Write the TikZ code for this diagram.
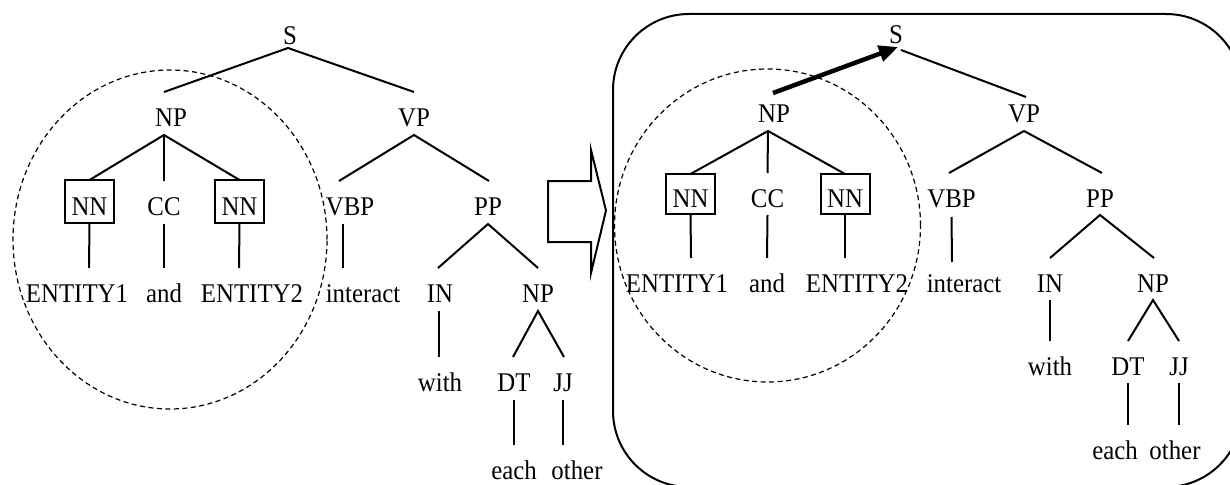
\documentclass[tikz,border=0pt]{standalone}
\usepackage{fontspec}
\setmainfont{Liberation Serif}[FakeStretch=0.92]
\usetikzlibrary{arrows.meta}
\begin{document}
\begin{tikzpicture}[x=1pt,y=-1pt,
  lbl/.style={inner sep=0pt, outer sep=0pt, anchor=base, text height=34pt, text depth=9pt,
              font=\fontsize{27}{30}\selectfont},
  lblR/.style={lbl, text depth=8pt},
  nnbox/.style={lbl, draw, line width=2pt, minimum width=49pt, inner xsep=0pt,
                text height=27pt, text depth=0pt, inner ysep=8pt},
  nnboxR/.style={nnbox, text height=26pt, inner ysep=7pt},
  edge/.style={line width=2pt},
  circ/.style={line width=1.2pt, dash pattern=on 5pt off 3.5pt},
  frame/.style={line width=2pt},
  bigarrow/.style={line width=2pt, line join=miter},
  headarrow/.style={line width=4.5pt, -{Triangle[length=19pt,width=16pt]}}
]
\useasboundingbox (0,0) rectangle (1230,484);
\clip (0,0) rectangle (1230,484);

% ---------------- left tree ----------------
\draw[circ] (170,239.5) ellipse [x radius=157pt, y radius=169.5pt];

\node[lbl, text depth=3pt] (S1) at (290,45) {S};
\node[lbl] (NP1) at (171,126) {NP};
\node[lbl] (VP1) at (414,126) {VP};
\node[nnbox] (NN1) at (89.5,215) {NN};
\node[lbl] (CC1) at (164,215) {CC};
\node[nnbox] (NN2) at (239.5,215) {NN};
\node[lbl] (VBP1) at (350,215) {VBP};
\node[lbl] (PP1) at (488,215) {PP};
\node[lbl] (E1) at (77,302) {ENTITY1};
\node[lbl] (and1) at (164,302) {and};
\node[lbl] (E2) at (252,302) {ENTITY2};
\node[lbl] (int1) at (363,302) {interact};
\node[lbl] (IN1) at (440,302) {IN};
\node[lbl] (NPb1) at (538,302) {NP};
\node[lbl] (with1) at (440,391) {with};
\node[lbl] (DT1) at (514,391) {DT};
\node[lbl] (JJ1) at (563,391) {JJ};
\node[lbl] (each1) at (514,479) {each};
\node[lbl] (other1) at (577,479) {other};

\draw[edge] ([xshift=-7pt]NP1.north) -- ([xshift=-2pt]S1.south) -- (VP1.north);
\draw[edge] (NN1.north) -- ([xshift=-7pt]NP1.south) -- (NN2.north);
\draw[edge] ([xshift=-7pt]NP1.south) -- (CC1.north);
\draw[edge] ([xshift=-11pt]VBP1.north) -- (VP1.south) -- ([xshift=1pt]PP1.north);
\draw[edge] (NN1.south) -- ([xshift=12pt]E1.north);
\draw[edge] (CC1.south) -- (and1.north);
\draw[edge] (NN2.south) -- ([xshift=-13pt]E2.north);
\draw[edge] ([xshift=-7pt]VBP1.south) -- ([xshift=-20pt]int1.north);
\draw[edge] ([xshift=-2pt]IN1.north) -- (PP1.south) -- (NPb1.north);
\draw[edge] ([xshift=-1pt]IN1.south) -- ([xshift=-1pt]with1.north);
\draw[edge] ([xshift=-1pt]DT1.north) -- (NPb1.south) -- ([xshift=1pt]JJ1.north);
\draw[edge] (DT1.south) -- (each1.north);
\draw[edge] (JJ1.south) -- ([xshift=-14pt]other1.north);

% ---------------- block arrow ----------------
\draw[bigarrow] (548,181) -- (591,181) -- (591,150) -- (606,210.5) -- (591,273)
  -- (591,242) -- (548,242) -- cycle;

% ---------------- right tree ----------------
\draw[frame, rounded corners=76pt] (613,14) rectangle (1242,487);
\draw[circ] (767.5,225.5) ellipse [x radius=153pt, y radius=156.5pt];

\node[lblR, text depth=6pt] (S2) at (896,44) {S};
\node[lblR] (NP2) at (774,123) {NP};
\node[lblR] (VP2) at (1024,123) {VP};
\node[nnboxR] (NN3) at (690.5,207) {NN};
\node[lblR] (CC2) at (767.5,207) {CC};
\node[nnboxR] (NN4) at (845,207) {NN};
\node[lblR] (VBP2) at (951.5,207) {VBP};
\node[lblR] (PP2) at (1100,207) {PP};
\node[lblR] (E3) at (677,292) {ENTITY1};
\node[lblR] (and2) at (767,292) {and};
\node[lblR] (E4) at (857,292) {ENTITY2};
\node[lblR] (int2) at (964,292) {interact};
\node[lblR] (IN2) at (1050,292) {IN};
\node[lblR] (NPb2) at (1153,292) {NP};
\node[lblR] (with2) at (1050,375) {with};
\node[lblR] (DT2) at (1128,375) {DT};
\node[lblR] (JJ2) at (1179,375) {JJ};
\node[lblR] (each2) at (1115,459) {each};
\node[lblR] (other2) at (1175,459) {other};

\draw[headarrow] ([xshift=-1pt,yshift=-4pt]NP2.north) -- ([xshift=2pt,yshift=3pt]S2.south);
\draw[edge] ([xshift=5pt]S2.south) -- ([xshift=2pt,yshift=-8pt]VP2.north);
\draw[edge] (NN3.north) -- ([xshift=-6pt]NP2.south) -- (NN4.north);
\draw[edge] ([xshift=-6pt]NP2.south) -- (CC2.north);
\draw[edge] ([xshift=-2.5pt]VBP2.north) -- (VP2.south) -- ([xshift=2pt]PP2.north);
\draw[edge] (NN3.south) -- ([xshift=14pt]E3.north);
\draw[edge] (CC2.south) -- (and2.north);
\draw[edge] (NN4.south) -- ([xshift=-12pt]E4.north);
\draw[edge] ([yshift=-2pt]VBP2.south) -- ([xshift=-12pt,yshift=-4pt]int2.north);
\draw[edge] (IN2.north) -- (PP2.south) -- ([xshift=1pt]NPb2.north);
\draw[edge] (IN2.south) -- (with2.north);
\draw[edge] (DT2.north) -- (NPb2.south) -- (JJ2.north);
\draw[edge] (DT2.south) -- ([xshift=13pt]each2.north);
\draw[edge] (JJ2.south) -- ([xshift=4pt]other2.north);
\end{tikzpicture}
\end{document}
